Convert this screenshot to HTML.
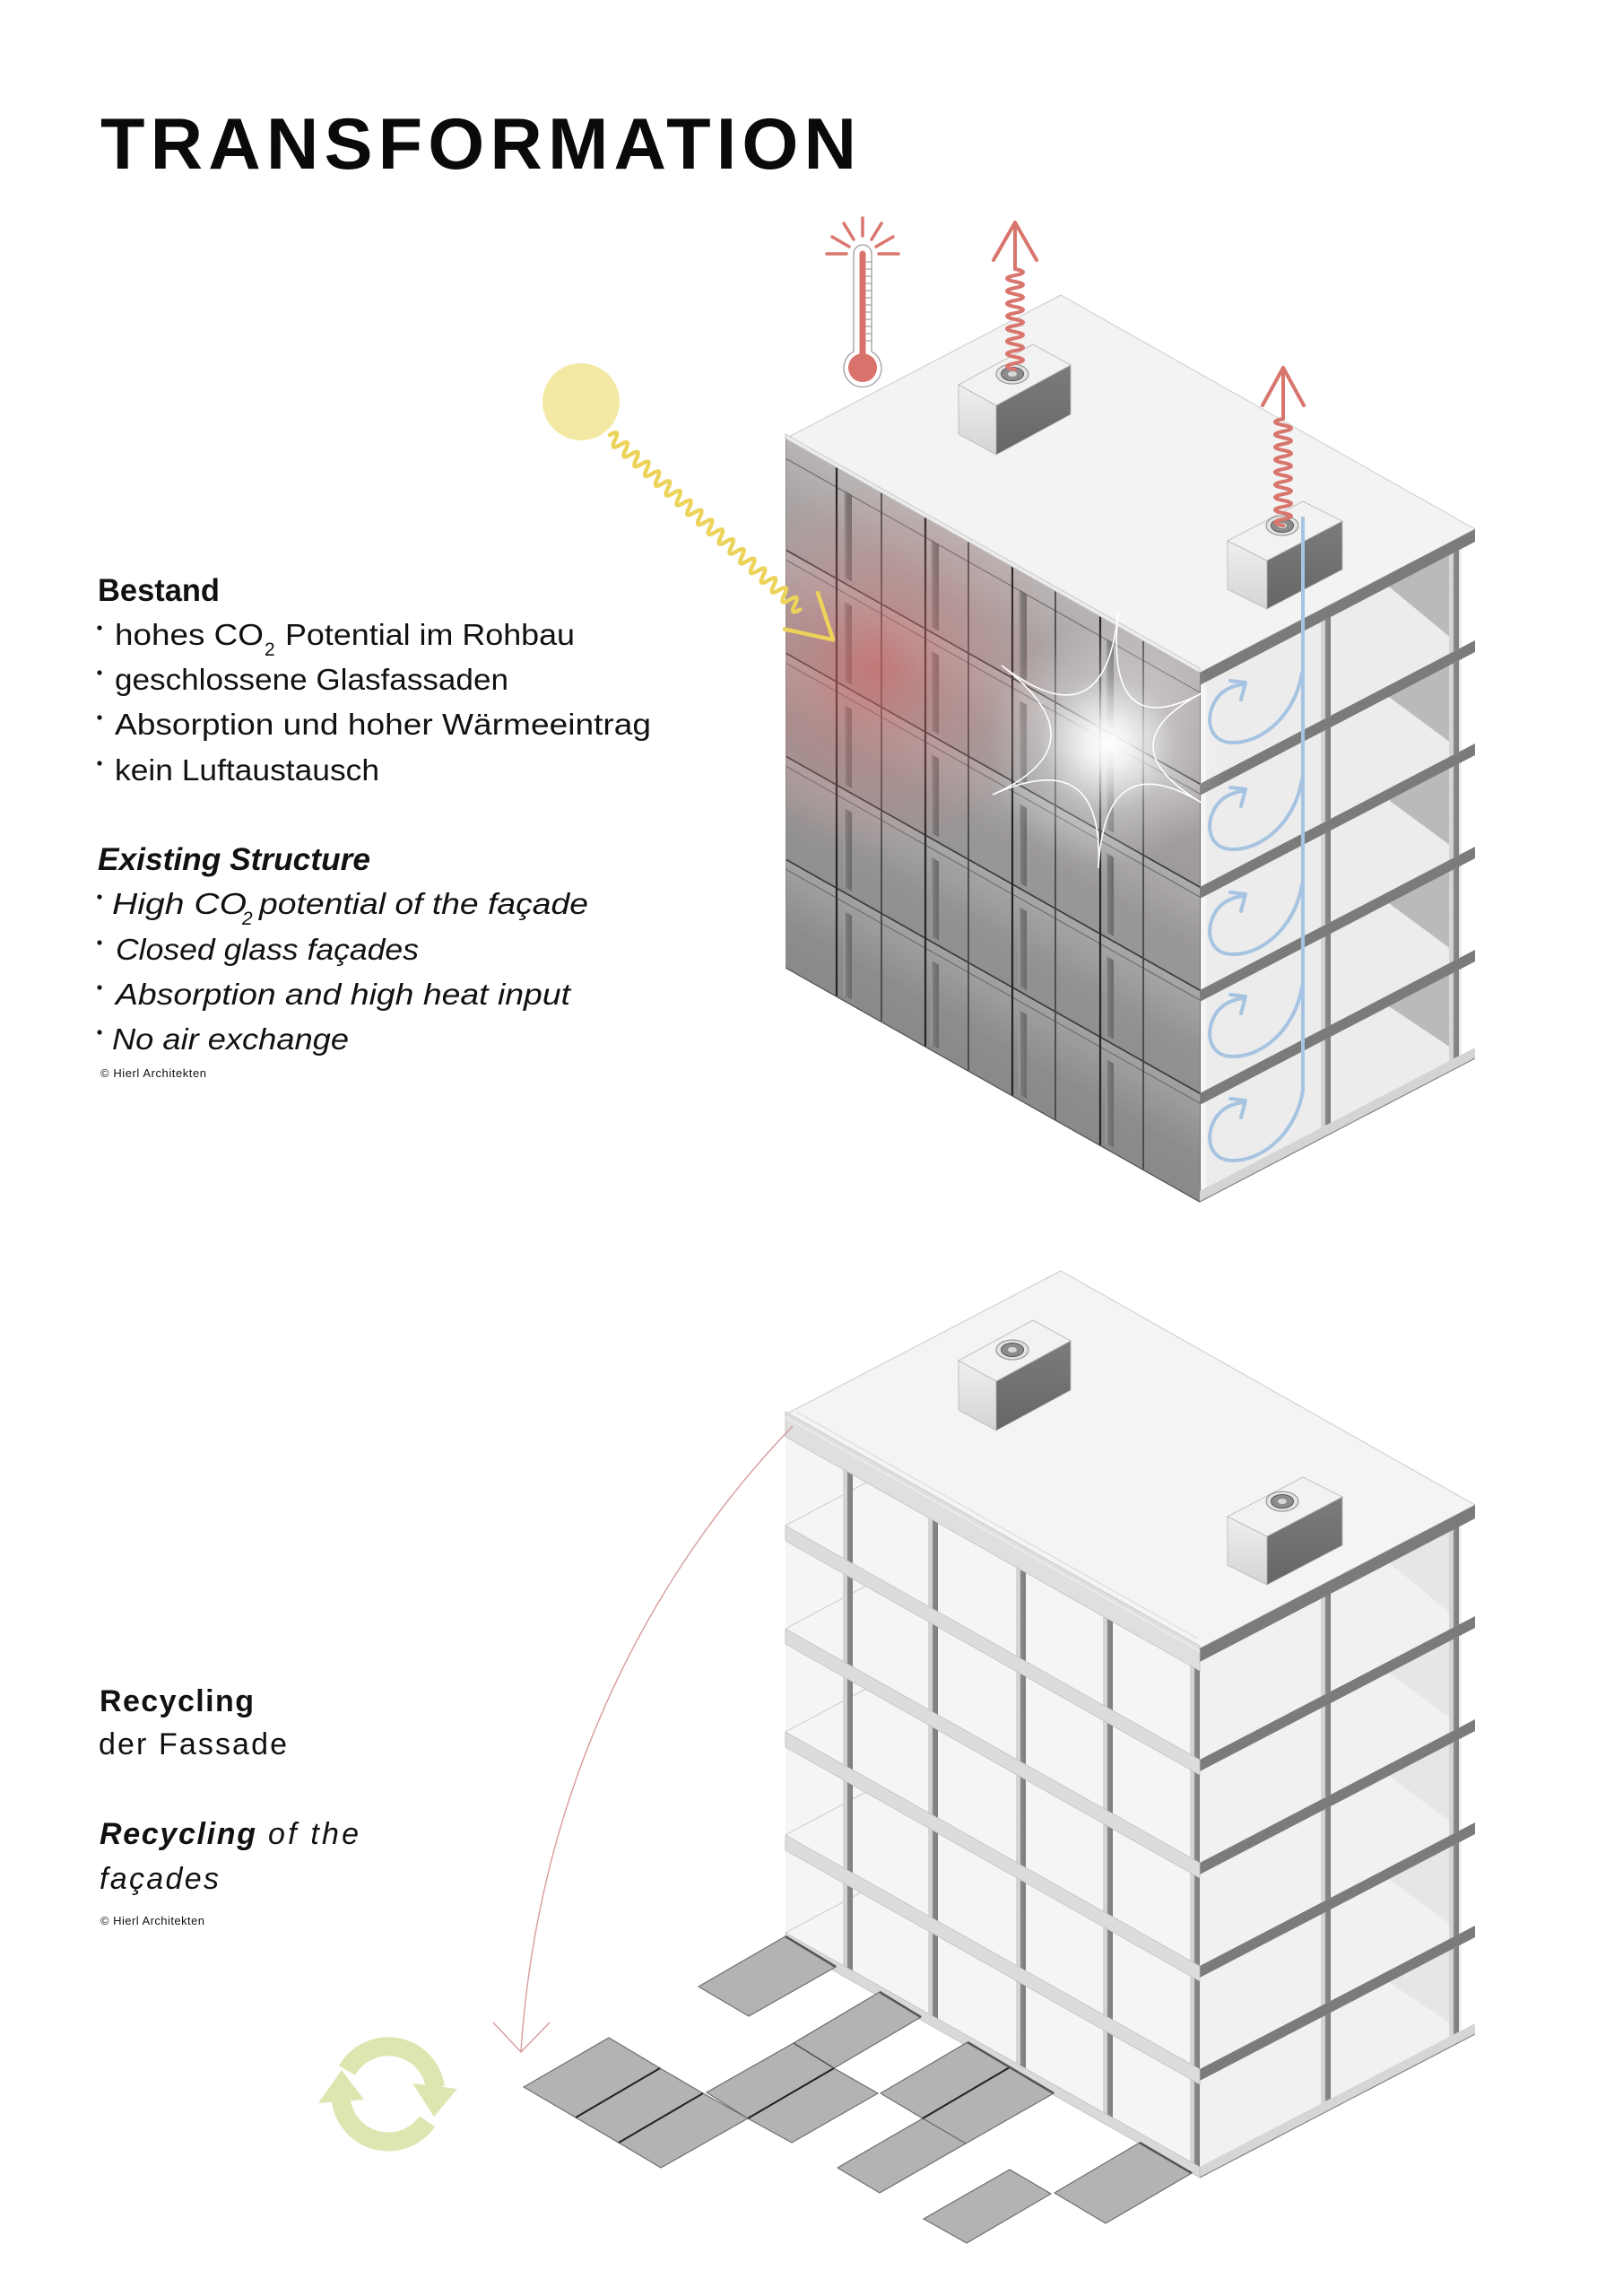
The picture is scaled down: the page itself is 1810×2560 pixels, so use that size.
<!DOCTYPE html>
<html><head><meta charset="utf-8"><style>html,body{margin:0;padding:0;background:#fff}svg{display:block}</style></head>
<body>
<svg width="1810" height="2560" viewBox="0 0 1810 2560" xmlns="http://www.w3.org/2000/svg" font-family="'Liberation Sans', sans-serif">
<defs>
  <linearGradient id="glassG" x1="0" y1="0" x2="0" y2="1">
    <stop offset="0" stop-color="#aca6a6"/><stop offset="0.5" stop-color="#9b9898"/><stop offset="1" stop-color="#8a8a8a"/>
  </linearGradient>
  <linearGradient id="rowShade" x1="0" y1="0" x2="0" y2="1">
    <stop offset="0" stop-color="#fff" stop-opacity="0.16"/><stop offset="0.6" stop-color="#fff" stop-opacity="0"/>
  </linearGradient>
  <linearGradient id="barG" x1="0" y1="0" x2="1" y2="0">
    <stop offset="0" stop-color="#a8a8a8"/><stop offset="0.3" stop-color="#7a7a7a"/><stop offset="1" stop-color="#6a6a6a"/>
  </linearGradient>
  <linearGradient id="colG" x1="0" y1="0" x2="1" y2="0">
    <stop offset="0" stop-color="#d6d6d6"/><stop offset="0.45" stop-color="#d0d0d0"/><stop offset="0.46" stop-color="#8a8a8a"/><stop offset="1" stop-color="#7c7c7c"/>
  </linearGradient>
  <linearGradient id="boxL" x1="0" y1="0" x2="0" y2="1">
    <stop offset="0" stop-color="#efefef"/><stop offset="1" stop-color="#d4d4d4"/>
  </linearGradient>
  <linearGradient id="boxR" x1="0" y1="0" x2="0" y2="1">
    <stop offset="0" stop-color="#7c7c7c"/><stop offset="1" stop-color="#666"/>
  </linearGradient>
  <radialGradient id="redGlow" cx="0.5" cy="0.5" r="0.5">
    <stop offset="0" stop-color="#d9605e" stop-opacity="0.6"/><stop offset="0.4" stop-color="#d77272" stop-opacity="0.35"/><stop offset="1" stop-color="#d88" stop-opacity="0"/>
  </radialGradient>
  <radialGradient id="whiteGlow" cx="0.5" cy="0.5" r="0.5">
    <stop offset="0" stop-color="#fff" stop-opacity="1"/><stop offset="0.18" stop-color="#fff" stop-opacity="0.85"/><stop offset="0.55" stop-color="#fff" stop-opacity="0.3"/><stop offset="1" stop-color="#fff" stop-opacity="0"/>
  </radialGradient>
  <clipPath id="glassClip"><polygon points="876,489 1338,750 1338,1340 876,1079"/></clipPath>
</defs>

<rect width="1810" height="2560" fill="#fff"/>

<!-- ============ TEXT ============ -->
<text x="112" y="188" font-weight="bold" font-size="81" fill="#0a0a0a" textLength="843" lengthAdjust="spacing">TRANSFORMATION</text>

<g fill="#111">
  <text x="109" y="670" font-weight="bold" font-size="35" textLength="136" lengthAdjust="spacingAndGlyphs">Bestand</text>
  <circle cx="111" cy="700" r="2.6"/><circle cx="111" cy="750" r="2.6"/><circle cx="111" cy="800" r="2.6"/><circle cx="111" cy="851" r="2.6"/>
  <text x="128" y="719" font-size="33" textLength="166" lengthAdjust="spacingAndGlyphs">hohes CO</text>
  <text x="295" y="731" font-size="21">2</text>
  <text x="318" y="719" font-size="33" textLength="323" lengthAdjust="spacingAndGlyphs">Potential im Rohbau</text>
  <text x="128" y="769" font-size="33" textLength="439" lengthAdjust="spacingAndGlyphs">geschlossene Glasfassaden</text>
  <text x="128" y="819" font-size="33" textLength="598" lengthAdjust="spacingAndGlyphs">Absorption und hoher Wärmeeintrag</text>
  <text x="128" y="870" font-size="33" textLength="295" lengthAdjust="spacingAndGlyphs">kein Luftaustausch</text>

  <text x="109" y="970" font-weight="bold" font-style="italic" font-size="35" textLength="304" lengthAdjust="spacingAndGlyphs">Existing Structure</text>
  <circle cx="111" cy="1000" r="2.6"/><circle cx="111" cy="1051" r="2.6"/><circle cx="111" cy="1101" r="2.6"/><circle cx="111" cy="1151" r="2.6"/>
  <text x="125" y="1019" font-style="italic" font-size="33" textLength="150" lengthAdjust="spacingAndGlyphs">High CO</text>
  <text x="270" y="1031" font-style="italic" font-size="21">2</text>
  <text x="289" y="1019" font-style="italic" font-size="33" textLength="367" lengthAdjust="spacingAndGlyphs">potential of the façade</text>
  <text x="129" y="1070" font-style="italic" font-size="33" textLength="338" lengthAdjust="spacingAndGlyphs">Closed glass façades</text>
  <text x="129" y="1120" font-style="italic" font-size="33" textLength="507" lengthAdjust="spacingAndGlyphs">Absorption and high heat input</text>
  <text x="125" y="1170" font-style="italic" font-size="33" textLength="264" lengthAdjust="spacingAndGlyphs">No air exchange</text>
  <text x="112" y="1201" font-size="13" textLength="118" lengthAdjust="spacing">© Hierl Architekten</text>

  <text x="111" y="1908" font-weight="bold" font-size="34" textLength="172" lengthAdjust="spacing">Recycling</text>
  <text x="110" y="1956" font-size="34" textLength="210" lengthAdjust="spacing">der Fassade</text>
  <text x="111" y="2056" font-weight="bold" font-style="italic" font-size="34" textLength="174" lengthAdjust="spacing">Recycling</text>
  <text x="299" y="2056" font-style="italic" font-size="34" textLength="101" lengthAdjust="spacing">of the</text>
  <text x="111" y="2106" font-style="italic" font-size="34" textLength="133" lengthAdjust="spacing">façades</text>
  <text x="112" y="2146" font-size="13" textLength="116" lengthAdjust="spacing">© Hierl Architekten</text>
</g>

<!-- ============ BUILDING 1 ============ -->
<polygon points="876,489 1183,329 1645,590 1338,750" fill="#f3f3f3" stroke="#cbcbcb" stroke-width="1"/>

<g transform="matrix(1,-0.521,0,1,1338,750)">
  <rect x="0" y="0" width="292" height="585" fill="#ececec"/>
  <g fill="#bababa">
    <polygon points="211,14 280,14 280,107"/>
    <polygon points="211,137 280,137 280,224"/>
    <polygon points="211,252 280,252 280,339"/>
    <polygon points="211,367 280,367 280,454"/>
    <polygon points="211,482 280,482 280,564"/>
  </g>
  <g fill="url(#colG)">
    <rect x="135" y="14" width="11" height="110"/><rect x="278" y="14" width="11" height="110"/>
    <rect x="135" y="137" width="11" height="102"/><rect x="278" y="137" width="11" height="102"/>
    <rect x="135" y="252" width="11" height="102"/><rect x="278" y="252" width="11" height="102"/>
    <rect x="135" y="367" width="11" height="102"/><rect x="278" y="367" width="11" height="102"/>
    <rect x="135" y="482" width="11" height="96"/><rect x="278" y="482" width="11" height="96"/>
  </g>
  <rect x="0" y="0" width="7" height="590" fill="#f5f5f5"/>
  <line x1="0" y1="0" x2="0" y2="590" stroke="#444" stroke-width="1.5"/>
  <g fill="#7b7b7b">
    <rect x="0" y="0" width="307" height="14"/>
    <rect x="0" y="124" width="307" height="13"/>
    <rect x="0" y="239" width="307" height="13"/>
    <rect x="0" y="354" width="307" height="13"/>
    <rect x="0" y="469" width="307" height="13"/>
  </g>
  <rect x="0" y="578" width="307" height="12" fill="#d4d4d4"/>
  <line x1="0" y1="590" x2="307" y2="590" stroke="#7a7a7a" stroke-width="1.2"/>
</g>

<g transform="matrix(1,0.565,0,1,876,489)">
  <rect x="0" y="0" width="462" height="590" fill="url(#glassG)"/>
  <g fill="url(#rowShade)">
    <rect x="0" y="0" width="462" height="124"/><rect x="0" y="124" width="462" height="115"/>
    <rect x="0" y="239" width="462" height="115"/><rect x="0" y="354" width="462" height="115"/>
    <rect x="0" y="469" width="462" height="121"/>
  </g>
  <g fill="url(#barG)">
    <rect x="65" y="21" width="9" height="97"/><rect x="162" y="21" width="9" height="97"/><rect x="260" y="21" width="9" height="97"/><rect x="357" y="21" width="9" height="97"/>
    <rect x="65" y="145" width="9" height="88"/><rect x="162" y="145" width="9" height="88"/><rect x="260" y="145" width="9" height="88"/><rect x="357" y="145" width="9" height="88"/>
    <rect x="65" y="260" width="9" height="88"/><rect x="162" y="260" width="9" height="88"/><rect x="260" y="260" width="9" height="88"/><rect x="357" y="260" width="9" height="88"/>
    <rect x="65" y="375" width="9" height="88"/><rect x="162" y="375" width="9" height="88"/><rect x="260" y="375" width="9" height="88"/><rect x="357" y="375" width="9" height="88"/>
    <rect x="65" y="490" width="9" height="94"/><rect x="162" y="490" width="9" height="94"/><rect x="260" y="490" width="9" height="94"/><rect x="357" y="490" width="9" height="94"/>
  </g>
  <g stroke="#3d3d3d" stroke-width="2">
    <line x1="0" y1="124" x2="462" y2="124"/><line x1="0" y1="239" x2="462" y2="239"/>
    <line x1="0" y1="354" x2="462" y2="354"/><line x1="0" y1="469" x2="462" y2="469"/>
  </g>
  <g stroke="#686868" stroke-width="1.2">
    <line x1="0" y1="22" x2="462" y2="22"/>
    <line x1="0" y1="135" x2="462" y2="135"/><line x1="0" y1="250" x2="462" y2="250"/>
    <line x1="0" y1="365" x2="462" y2="365"/><line x1="0" y1="480" x2="462" y2="480"/>
  </g>
  <g stroke="#252525" stroke-width="2.2">
    <line x1="57" y1="0" x2="57" y2="590"/><line x1="156" y1="0" x2="156" y2="590"/>
    <line x1="253" y1="0" x2="253" y2="590"/><line x1="351" y1="0" x2="351" y2="590"/>
  </g>
  <g stroke="#3c3c3c" stroke-width="1.6">
    <line x1="107" y1="0" x2="107" y2="590"/><line x1="204" y1="0" x2="204" y2="590"/>
    <line x1="301" y1="0" x2="301" y2="590"/><line x1="399" y1="0" x2="399" y2="590"/>
  </g>
  <line x1="0.5" y1="0" x2="0.5" y2="590" stroke="#8a8a8a" stroke-width="1"/>
  <line x1="0" y1="590" x2="462" y2="590" stroke="#555" stroke-width="1.5"/>
  <rect x="0" y="-5" width="462" height="5" fill="#ececec" stroke="#bdbdbd" stroke-width="0.8"/>
</g>

<circle cx="975" cy="745" r="210" fill="url(#redGlow)" clip-path="url(#glassClip)"/>
<circle cx="1236" cy="830" r="135" fill="url(#whiteGlow)"/>
<path d="M1247 683 Q1232 830 1340 773 Q1232 830 1340 895 Q1232 830 1225 968 Q1232 830 1107 886 Q1232 830 1117 742 Q1232 830 1247 683 Z" fill="none" stroke="#fff" stroke-width="1.6"/>

<g stroke="#b5b5b5" stroke-width="0.8">
  <polygon points="1069,429 1111,452 1111,507 1069,484" fill="url(#boxL)"/>
  <polygon points="1111,452 1194,407 1194,462 1111,507" fill="url(#boxR)"/>
  <polygon points="1069,429 1152,384 1194,407 1111,452" fill="#f2f2f2"/>
  <polygon points="1369,603 1413,625 1413,679 1369,657" fill="url(#boxL)"/>
  <polygon points="1413,625 1497,581 1497,635 1413,679" fill="url(#boxR)"/>
  <polygon points="1369,603 1453,559 1497,581 1413,625" fill="#f2f2f2"/>
</g>
<g>
  <ellipse cx="1129" cy="417" rx="18" ry="11" fill="#e2e2e2" stroke="#8a8a8a" stroke-width="1"/>
  <ellipse cx="1129" cy="417" rx="12.5" ry="7.5" fill="#8c8c8c" stroke="#555" stroke-width="1"/>
  <ellipse cx="1129" cy="417" rx="5" ry="3" fill="#d8d8d8"/>
  <ellipse cx="1430" cy="586" rx="18" ry="11" fill="#e2e2e2" stroke="#8a8a8a" stroke-width="1"/>
  <ellipse cx="1430" cy="586" rx="12.5" ry="7.5" fill="#8c8c8c" stroke="#555" stroke-width="1"/>
  <ellipse cx="1430" cy="586" rx="5" ry="3" fill="#d8d8d8"/>
</g>

<g fill="none" stroke="#a6c3e2" stroke-width="4" stroke-linecap="round" stroke-linejoin="round">
  <line x1="1453" y1="578" x2="1453" y2="1216"/>
  <path d="M1452 750 C1445 795 1410 828 1375 828 C1350 828 1345 805 1352 788 C1358 772 1372 764 1388 763"/>
  <path d="M1372 759 L1389 761 L1384 780"/>
  <path d="M1452 869 C1445 914 1410 947 1375 947 C1350 947 1345 924 1352 907 C1358 891 1372 883 1388 882"/>
  <path d="M1372 878 L1389 880 L1384 899"/>
  <path d="M1452 986 C1445 1031 1410 1064 1375 1064 C1350 1064 1345 1041 1352 1024 C1358 1008 1372 1000 1388 999"/>
  <path d="M1372 995 L1389 997 L1384 1016"/>
  <path d="M1452 1100 C1445 1145 1410 1178 1375 1178 C1350 1178 1345 1155 1352 1138 C1358 1122 1372 1114 1388 1113"/>
  <path d="M1372 1109 L1389 1111 L1384 1130"/>
  <path d="M1453 1216 C1446 1261 1410 1294 1375 1294 C1350 1294 1345 1271 1352 1254 C1358 1238 1372 1230 1388 1229"/>
  <path d="M1372 1225 L1389 1227 L1384 1246"/>
</g>

<g fill="none" stroke="#d8756d" stroke-width="4" stroke-linecap="round" stroke-linejoin="round">
  <g transform="translate(1132,412) rotate(-90)">
    <path d="M0 0 q3.5 -18 7 0 t7 0 t7 0 t7 0 t7 0 t7 0 t7 0 t7 0 t7 0 t7 0 t7 0 t7 0 t7 0 t7 0 t7 0 t7 0 L164 0"/>
    <path d="M122 -24 L164 0 L122 24"/>
  </g>
  <g transform="translate(1431,586) rotate(-90)">
    <path d="M0 0 q3.5 -18 7 0 t7 0 t7 0 t7 0 t7 0 t7 0 t7 0 t7 0 t7 0 t7 0 t7 0 t7 0 t7 0 t7 0 t7 0 t7 0 t7 0 L176 0"/>
    <path d="M134 -23 L176 0 L134 23"/>
  </g>
</g>

<g stroke-linecap="round">
  <g stroke="#d9766e" stroke-width="3.5">
    <line x1="962" y1="243" x2="962" y2="263"/>
    <line x1="941" y1="249" x2="952" y2="267"/>
    <line x1="983" y1="249" x2="972" y2="267"/>
    <line x1="928" y1="264" x2="947" y2="275"/>
    <line x1="996" y1="264" x2="977" y2="275"/>
    <line x1="922" y1="283" x2="944" y2="283"/>
    <line x1="980" y1="283" x2="1002" y2="283"/>
  </g>
  <path d="M952 392 L952 283 A10 10 0 0 1 972 283 L972 392 A21 21 0 1 1 952 392 Z" fill="#fff" stroke="#aaa" stroke-width="1.5"/>
  <line x1="962" y1="283" x2="962" y2="402" stroke="#d9726b" stroke-width="7"/>
  <circle cx="962" cy="410" r="16" fill="#d9726b"/>
  <g stroke="#8a8a8a" stroke-width="1">
    <line x1="966" y1="292" x2="971" y2="292"/><line x1="966" y1="300" x2="971" y2="300"/><line x1="966" y1="308" x2="971" y2="308"/>
    <line x1="966" y1="316" x2="971" y2="316"/><line x1="966" y1="324" x2="971" y2="324"/><line x1="966" y1="332" x2="971" y2="332"/>
    <line x1="966" y1="340" x2="971" y2="340"/><line x1="966" y1="348" x2="971" y2="348"/><line x1="966" y1="356" x2="971" y2="356"/>
    <line x1="966" y1="364" x2="971" y2="364"/><line x1="966" y1="372" x2="971" y2="372"/><line x1="966" y1="380" x2="971" y2="380"/>
  </g>
</g>

<circle cx="648" cy="448" r="43" fill="#f3e9a4"/>
<g transform="translate(680,485) rotate(42.5)" fill="none" stroke="#ecd35a" stroke-width="4.5" stroke-linecap="round" stroke-linejoin="round">
  <path d="M0 0 q4 -14 8 0 t8 0 t8 0 t8 0 t8 0 t8 0 t8 0 t8 0 t8 0 t8 0 t8 0 t8 0 t8 0 t8 0 t8 0 t8 0 t8 0 t8 0 t8 0 t8 0 t8 0 t8 0 t8 0 t8 0 t8 0 t8 0 t8 0 t8 0 t8 0 t8 0 t8 0 t8 0 t8 0 t8 0 t8 0 t8 0"/>
  <path d="M290 -27 L338 0 L290 28"/>
</g>

<!-- ============ BUILDING 2 ============ -->
<g transform="translate(0,1088)">
  <polygon points="876,489 1183,329 1645,590 1338,750" fill="#f4f4f4" stroke="#cbcbcb" stroke-width="1"/>
  <line x1="888" y1="486" x2="1336" y2="739" stroke="#d8d8d8" stroke-width="1"/>

  <g transform="matrix(1,-0.521,0,1,1338,750)">
    <rect x="0" y="0" width="292" height="585" fill="#f1f1f1"/>
    <g fill="#e6e6e6">
      <polygon points="211,14 280,14 280,107"/>
      <polygon points="211,137 280,137 280,224"/>
      <polygon points="211,252 280,252 280,339"/>
      <polygon points="211,367 280,367 280,454"/>
      <polygon points="211,482 280,482 280,564"/>
    </g>
    <g fill="url(#colG)">
      <rect x="135" y="14" width="11" height="110"/><rect x="278" y="14" width="11" height="110"/>
      <rect x="135" y="137" width="11" height="102"/><rect x="278" y="137" width="11" height="102"/>
      <rect x="135" y="252" width="11" height="102"/><rect x="278" y="252" width="11" height="102"/>
      <rect x="135" y="367" width="11" height="102"/><rect x="278" y="367" width="11" height="102"/>
      <rect x="135" y="482" width="11" height="96"/><rect x="278" y="482" width="11" height="96"/>
    </g>
    <g fill="#7b7b7b">
      <rect x="0" y="0" width="307" height="15"/>
      <rect x="0" y="124" width="307" height="13"/>
      <rect x="0" y="239" width="307" height="13"/>
      <rect x="0" y="354" width="307" height="13"/>
      <rect x="0" y="469" width="307" height="13"/>
    </g>
    <rect x="0" y="578" width="307" height="12" fill="#d6d6d6"/>
    <line x1="0" y1="590" x2="307" y2="590" stroke="#7a7a7a" stroke-width="1.2"/>
  </g>

  <g transform="matrix(1,0.565,0,1,876,489)">
    <rect x="0" y="0" width="462" height="590" fill="#f5f5f5"/>
  </g>
  <g stroke="#cdcdcd" stroke-width="1">
    <line x1="876" y1="613" x2="966" y2="565"/>
    <line x1="876" y1="728" x2="966" y2="680"/>
    <line x1="876" y1="843" x2="966" y2="795"/>
    <line x1="876" y1="958" x2="966" y2="910"/>
    <line x1="876" y1="1067" x2="966" y2="1019"/>
  </g>
  <g transform="matrix(1,0.565,0,1,876,489)">
    <g fill="url(#colG)">
      <rect x="64" y="25" width="11" height="99"/><rect x="159" y="25" width="11" height="99"/><rect x="257" y="25" width="11" height="99"/><rect x="354" y="25" width="11" height="99"/><rect x="451" y="25" width="11" height="99"/>
      <rect x="64" y="141" width="11" height="98"/><rect x="159" y="141" width="11" height="98"/><rect x="257" y="141" width="11" height="98"/><rect x="354" y="141" width="11" height="98"/><rect x="451" y="141" width="11" height="98"/>
      <rect x="64" y="256" width="11" height="98"/><rect x="159" y="256" width="11" height="98"/><rect x="257" y="256" width="11" height="98"/><rect x="354" y="256" width="11" height="98"/><rect x="451" y="256" width="11" height="98"/>
      <rect x="64" y="371" width="11" height="98"/><rect x="159" y="371" width="11" height="98"/><rect x="257" y="371" width="11" height="98"/><rect x="354" y="371" width="11" height="98"/><rect x="451" y="371" width="11" height="98"/>
      <rect x="64" y="486" width="11" height="92"/><rect x="159" y="486" width="11" height="92"/><rect x="257" y="486" width="11" height="92"/><rect x="354" y="486" width="11" height="92"/><rect x="451" y="486" width="11" height="92"/>
    </g>
    <g stroke="#bdbdbd" stroke-width="0.8">
      <rect x="0" y="-3" width="462" height="28" fill="#dfdfdf"/>
      <rect x="0" y="124" width="462" height="17" fill="#dcdcdc"/>
      <rect x="0" y="239" width="462" height="17" fill="#dcdcdc"/>
      <rect x="0" y="354" width="462" height="17" fill="#dcdcdc"/>
      <rect x="0" y="469" width="462" height="17" fill="#dcdcdc"/>
      <rect x="0" y="578" width="462" height="12" fill="#d9d9d9"/>
    </g>
    <line x1="0" y1="3" x2="462" y2="3" stroke="#ececec" stroke-width="2"/>
  </g>

  <g stroke="#b5b5b5" stroke-width="0.8">
    <polygon points="1069,429 1111,452 1111,507 1069,484" fill="url(#boxL)"/>
    <polygon points="1111,452 1194,407 1194,462 1111,507" fill="url(#boxR)"/>
    <polygon points="1069,429 1152,384 1194,407 1111,452" fill="#f2f2f2"/>
    <polygon points="1369,603 1413,625 1413,679 1369,657" fill="url(#boxL)"/>
    <polygon points="1413,625 1497,581 1497,635 1413,679" fill="url(#boxR)"/>
    <polygon points="1369,603 1453,559 1497,581 1413,625" fill="#f2f2f2"/>
  </g>
  <ellipse cx="1129" cy="417" rx="18" ry="11" fill="#e2e2e2" stroke="#8a8a8a" stroke-width="1"/>
  <ellipse cx="1129" cy="417" rx="12.5" ry="7.5" fill="#8c8c8c" stroke="#555" stroke-width="1"/>
  <ellipse cx="1129" cy="417" rx="5" ry="3" fill="#d8d8d8"/>
  <ellipse cx="1430" cy="586" rx="18" ry="11" fill="#e2e2e2" stroke="#8a8a8a" stroke-width="1"/>
  <ellipse cx="1430" cy="586" rx="12.5" ry="7.5" fill="#8c8c8c" stroke="#555" stroke-width="1"/>
  <ellipse cx="1430" cy="586" rx="5" ry="3" fill="#d8d8d8"/>
</g>

<g fill="#b3b3b3" stroke="#6e6e6e" stroke-width="1.2" stroke-linejoin="round">
  <polygon points="876,2159 932,2193 835,2248 779,2215"/>
  <polygon points="981,2221 1027,2249 930,2306 885,2278"/>
  <polygon points="885,2278 930,2306 834,2362 788,2333"/>
  <polygon points="930,2306 979,2334 883,2389 834,2362"/>
  <polygon points="679,2272 736,2306 642,2361 584,2327"/>
  <polygon points="736,2306 784,2334 690,2389 642,2361"/>
  <polygon points="784,2334 834,2362 737,2417 690,2389"/>
  <polygon points="1079,2277 1126,2305 1029,2362 982,2334"/>
  <polygon points="1126,2305 1175,2334 1077,2390 1029,2362"/>
  <polygon points="1029,2362 1077,2390 981,2445 934,2417"/>
  <polygon points="1271,2389 1329,2423 1233,2479 1176,2445"/>
  <polygon points="1126,2419 1172,2446 1078,2501 1030,2474"/>
</g>
<g stroke="#222" stroke-width="2">
  <line x1="736" y1="2306" x2="642" y2="2361"/>
  <line x1="784" y1="2334" x2="690" y2="2389"/>
  <line x1="930" y1="2306" x2="834" y2="2362"/>
  <line x1="1126" y1="2305" x2="1029" y2="2362"/>
</g>
<g stroke="#555" stroke-width="2.5">
  <line x1="876" y1="2159" x2="932" y2="2193"/>
  <line x1="981" y1="2221" x2="1027" y2="2249"/>
  <line x1="1079" y1="2277" x2="1175" y2="2334"/>
  <line x1="1271" y1="2389" x2="1329" y2="2423"/>
  <line x1="885" y1="2278" x2="930" y2="2306" stroke-width="1.5"/>
</g>

<g fill="none" stroke="#d99b9b" stroke-width="1.4">
  <path d="M884 1590 C720 1760 600 2000 581 2287"/>
  <path d="M550 2255 L581 2288 L613 2255"/>
</g>

<g fill="none" stroke="#dce6b1" stroke-width="21">
  <path d="M387 2308.5 A53 53 0 0 1 485.5 2327.6"/>
  <path d="M476.4 2365.4 A53 53 0 0 1 380.5 2342.4"/>
</g>
<g fill="#dce6b1">
  <polygon points="460,2323 510,2329 484,2360"/>
  <polygon points="355,2345 406,2341 381,2308"/>
</g>
</svg>
</body></html>
